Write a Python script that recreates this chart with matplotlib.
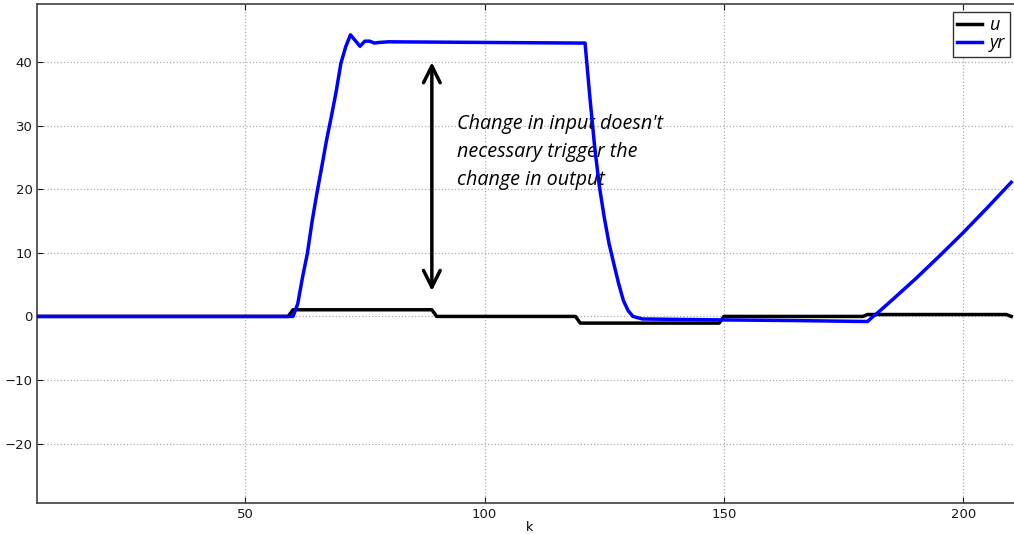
import matplotlib
matplotlib.use("Agg")
import matplotlib.pyplot as plt

# sample index and recorded signals (breakpoints of the piecewise-linear traces)
k_u = [0, 59, 60, 89, 90, 119, 120, 149, 150, 179, 180, 209, 210]
u = [0.0, 0.0, 1.05, 1.05, 0.0, 0.0, -1.05, -1.05, 0.0, 0.0, 0.3, 0.3, 0.0]

k_yr = [0, 60, 61, 62, 63, 64, 65, 66, 67, 68, 69, 70, 71, 72, 73, 74, 75, 76,
        77, 78, 80, 100, 121, 122, 123, 124, 125, 126, 127, 128, 129, 130, 131,
        132, 133, 150, 165, 180, 181, 182, 185, 190, 195, 200, 205, 210]
yr = [0.0, 0.0, 2.0, 6.2, 9.9, 15.0, 19.4, 23.5, 27.7, 31.4, 35.3, 39.8, 42.4,
      44.3, 43.4, 42.5, 43.3, 43.3, 43.0, 43.1, 43.2, 43.1, 43.0, 34.5, 26.7,
      20.4, 15.6, 11.5, 8.3, 5.2, 2.5, 0.9, 0.0, -0.2, -0.4, -0.55, -0.65,
      -0.8, -0.1, 0.5, 2.5, 5.9, 9.5, 13.2, 17.1, 21.1]

x_ticks = [50, 100, 150, 200]
y_ticks = [-20, -10, 0, 10, 20, 30, 40]

note_text = "Change in input doesn't\nnecessary trigger the\nchange in output"
arrow_k = 89
arrow_span = (4.0, 40.0)

W, H = 1014, 534
fig = plt.figure(figsize=(W / 100, H / 100), dpi=100)
ax = fig.add_axes([37.3 / W, 1 - 502.7 / H, (1020.8 - 37.3) / W, (502.7 - 4.3) / H])

ax.plot(k_u, u, color="black", lw=2.5, label="u", zorder=3)
ax.plot(k_yr, yr, color="blue", lw=2.5, label="yr", zorder=4)

ax.set_xlim(6.6, 212)
ax.set_ylim(-29.3, 49.1)
ax.set_xticks(x_ticks)
ax.set_yticks(y_ticks)
ax.tick_params(direction="in", top=True, right=True, labelsize=9.5,
               length=4, width=0.8, colors="0.1")
ax.set_xlabel("k", fontsize=9, labelpad=0)
ax.grid(True, linestyle=":", color="0.68", lw=0.9)
for s in ax.spines.values():
    s.set_color("0.25")
    s.set_linewidth(1.2)

ax.annotate("", xy=(arrow_k, arrow_span[1]), xytext=(arrow_k, arrow_span[0]),
            arrowprops=dict(arrowstyle="<->", lw=2.5, color="black",
                            mutation_scale=30, shrinkA=0, shrinkB=0))
ax.text(94.3, 31.9, note_text, fontsize=14.2, style="italic",
        family=["Open Sans", "DejaVu Sans"], va="top", ha="left",
        linespacing=1.55, color="black")

leg = ax.legend(loc="upper left", bbox_to_anchor=(952.7 / W, 1 - 11.7 / H),
                bbox_transform=fig.transFigure, borderaxespad=0,
                fancybox=False, framealpha=1, edgecolor="0.2",
                prop={"family": ["Open Sans", "DejaVu Sans"], "style": "italic", "size": 13},
                handlelength=1.4, handletextpad=0.4, labelspacing=0.0,
                borderpad=0.25)
leg.get_frame().set_linewidth(1.0)

fig.savefig("out.png", dpi=100)
